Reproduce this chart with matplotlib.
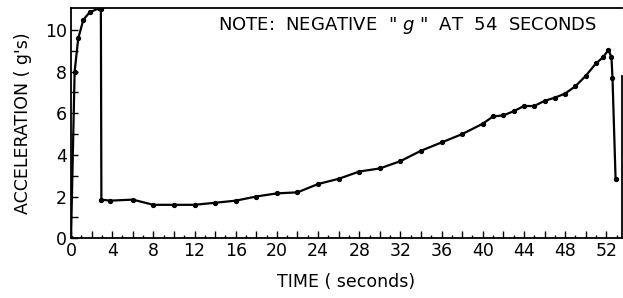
import matplotlib.pyplot as plt
from matplotlib.ticker import FuncFormatter

# Acceleration profile
time_s = [0, 0.35, 0.7, 1.2, 1.8, 2.7, 2.9, 2.95, 3.8, 6, 8, 10, 12, 14, 16, 18, 20, 22,
          24, 26, 28, 30, 32, 34, 36, 38, 40, 41, 42, 43, 44, 45, 46, 47, 48, 49, 50,
          51, 51.7, 52.2, 52.5, 52.6, 52.9]
accel_g = [0, 8.0, 9.6, 10.5, 10.85, 11.05, 11.0, 1.85, 1.8, 1.85, 1.6, 1.6, 1.6, 1.7,
           1.8, 2.0, 2.15, 2.2, 2.6, 2.85, 3.2, 3.35, 3.7, 4.2, 4.6, 5.0, 5.5, 5.85,
           5.9, 6.1, 6.35, 6.35, 6.6, 6.75, 6.95, 7.3, 7.8, 8.4, 8.7, 9.05, 8.7, 7.7, 2.85]
yticks = list(range(0, 11, 2))

plt.rcParams['font.family'] = 'DejaVu Sans'
fig = plt.figure(figsize=(6.23, 2.98), dpi=100)
ax = fig.add_axes([0.114, 0.201, 0.884, 0.772])

ax.plot(time_s, accel_g, color='black', linewidth=1.6, marker='o', markersize=2.8)

ax.set_xlim(0, 53.5)
ax.set_ylim(0, 11.06)
# tall ticks every 2 s (labelled every 4 s), short ticks every second
ax.set_xticks(range(0, 54, 2))
ax.xaxis.set_major_formatter(FuncFormatter(lambda v, p: '%d' % v if int(v) % 4 == 0 else ''))
ax.set_xticks(range(0, 54, 1), minor=True)
ax.set_yticks(yticks)
ax.set_yticks(range(0, 11), minor=True)
ax.tick_params(which='both', direction='in', width=1, labelsize=12.5, pad=3)
ax.tick_params(axis='x', which='major', length=5)
ax.tick_params(axis='x', which='minor', length=2.5)
ax.tick_params(axis='y', which='both', length=5)
for s in ax.spines.values():
    s.set_linewidth(1.3)
ax.spines['right'].set_bounds(0, 7.8)

ax.set_xlabel('TIME ( seconds)', fontsize=12.5, labelpad=9)
ax.set_ylabel("ACCELERATION ( g's)", fontsize=12.5, labelpad=9)
ax.text(0.955, 0.926, 'NOTE:  NEGATIVE  " $g$ "  AT  54  SECONDS', transform=ax.transAxes,
        ha='right', va='center', fontsize=13)

fig.savefig('out.png', dpi=100)
